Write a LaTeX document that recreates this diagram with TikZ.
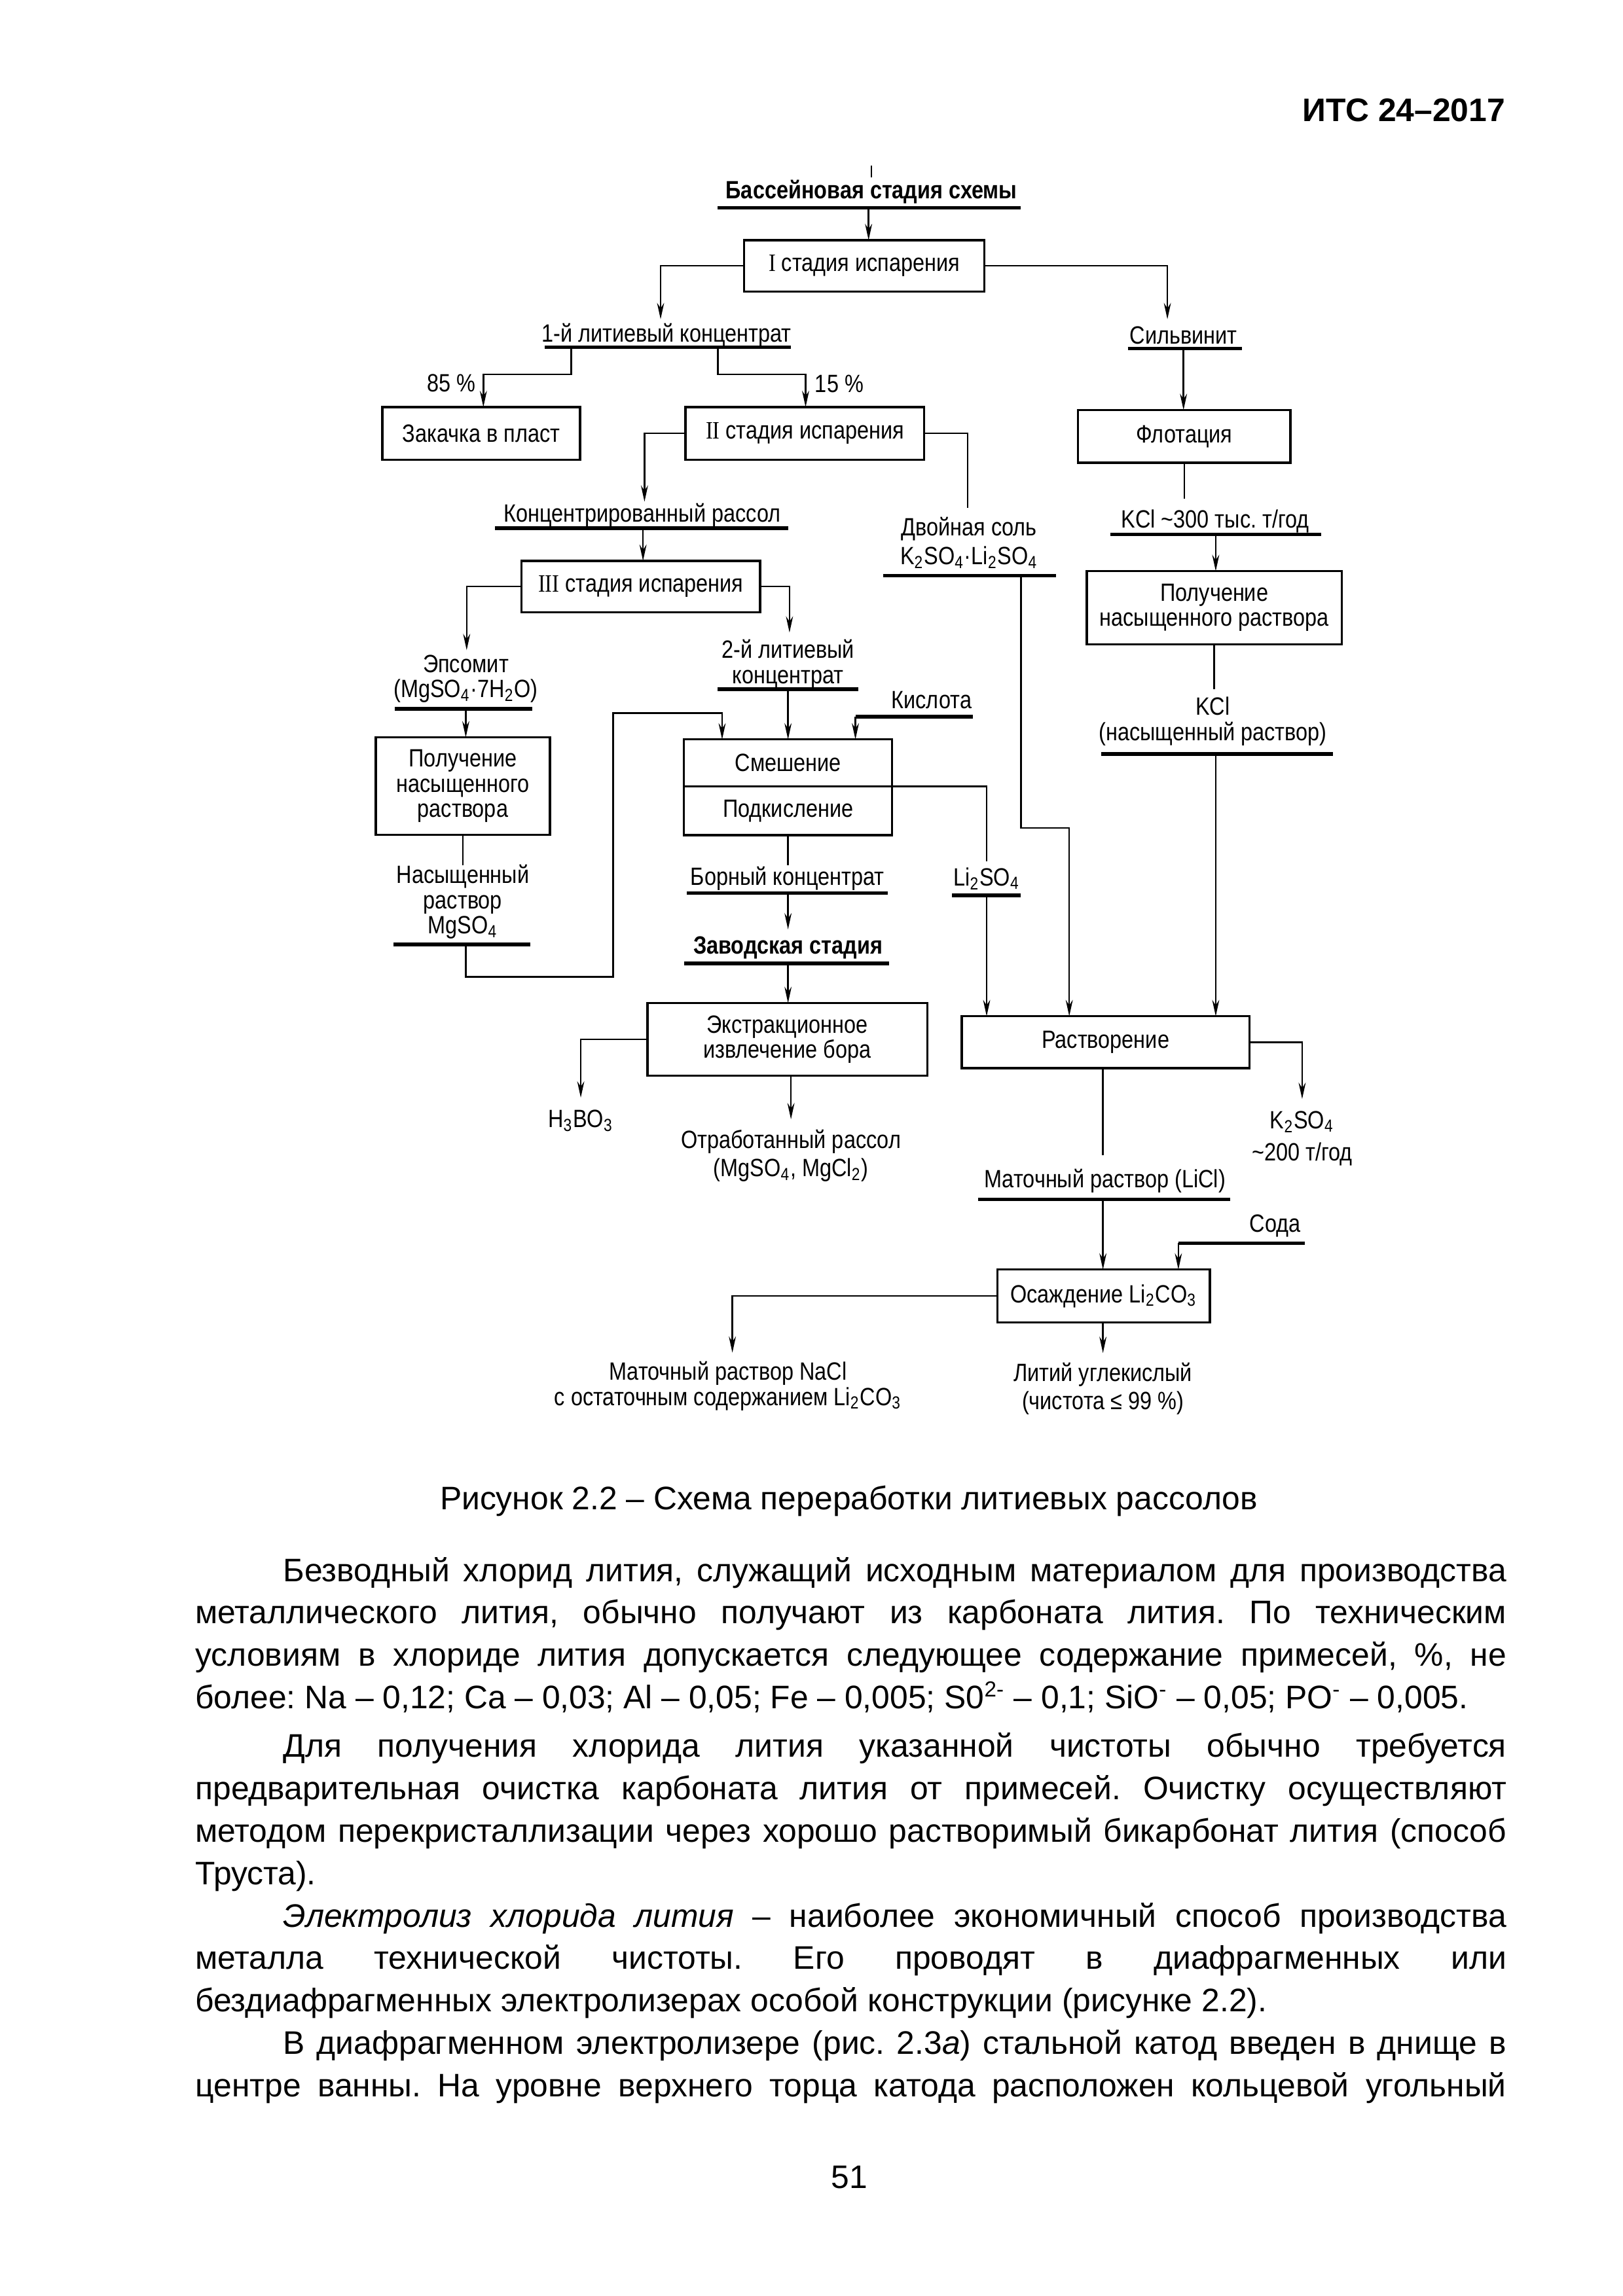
\documentclass[tikz,border=0pt]{standalone}
\usepackage{fontspec}
\setmainfont{Liberation Sans}
\newfontfamily\dfont[FakeStretch=0.85]{Liberation Sans}
\newfontfamily\rnum[FakeStretch=0.85]{Liberation Serif}
\usetikzlibrary{arrows.meta}
\frenchspacing
\newcommand\lsub[1]{\textsubscript{#1}}
\newcommand\lsup[1]{\textsuperscript{#1}}
\newcommand\bx[6]{\node[box, minimum width={(#3-#2)*0.018953cm}, minimum height={(#5-#4)*0.018953cm}] (#1) at ({(#2+#3)/2},{(#4+#5)/2}) {#6};}
\newcommand\jl[1]{\makebox[16.963cm][s]{#1}}
\newcommand\jf[1]{\makebox[15.826cm][s]{#1}}
\begin{document}
\begin{tikzpicture}[x=0.018953cm,y=-0.018953cm,
 dtext/.style={font=\dfont\fontsize{9.2}{9.3}\selectfont},
 box/.style={draw,line width=0.8pt,inner sep=0pt,outer sep=0pt,align=center,dtext},
 lbl/.style={inner sep=0pt,align=center,dtext},
 ttl/.style={inner sep=0pt,align=center,font=\dfont\bfseries\fontsize{9.2}{9.3}\selectfont},
 con/.style={line width=0.6pt},
 arr/.style={con,-{Stealth[length=6pt,width=2.6pt]}},
 ul/.style={line width=1.3pt},
 body/.style={inner sep=0pt,anchor=mid west,font=\fontsize{12}{15.6}\selectfont},
]
\fill[white] (0,0) rectangle (1108,1568);
\useasboundingbox (0,0) rectangle (1108,1568);

% header
\node[inner sep=0pt,anchor=mid east,font=\bfseries\fontsize{12}{14}\selectfont] (hdr) at (1028,78) {ИТС 24–2017};

% ---------- boxes ----------
\bx{b1}{508}{672}{164}{199}{{\rnum I} стадия испарения}
\bx{bZ}{261}{396}{278}{314}{Закачка в пласт}
\bx{b2}{468}{631}{278}{314}{{\rnum II} стадия испарения}
\bx{bF}{736}{881}{280}{316}{Флотация}
\bx{bP2}{742}{916}{390}{440}{Получение\\насыщенного раствора}
\bx{b3}{356}{519}{383}{418}{{\rnum III} стадия испарения}
\bx{bP1}{256.5}{375.5}{503.6}{570}{Получение\\насыщенного\\раствора}
\bx{bS}{467}{609}{505}{537}{Смешение}
\bx{bPk}{467}{609}{537}{570.4}{Подкисление}
\bx{bE}{442}{633}{685}{734.7}{Экстракционное\\извлечение бора}
\bx{bR}{656.6}{853}{694}{729.4}{Растворение}
\bx{bO}{681}{826}{867}{903}{Осаждение Li\lsub2CO\lsub3}

% ---------- labels ----------
\node[ttl] (t0) at (595,131) {Бассейновая стадия схемы};
\node[lbl] (conc1) at (455,229) {1-й литиевый концентрат};
\node[lbl] (silv) at (808,229) {Сильвинит};
\node[lbl] (p85) at (308,261.5) {85 \%};
\node[lbl] (p15) at (573,262) {15 \%};
\node[lbl] (crass) at (438.5,352) {Концентрированный рассол};
\node[lbl,font=\dfont\fontsize{9.2}{10.7}\selectfont] (dsalt) at (661.6,370.6) {Двойная соль\\K\lsub2SO\lsub4·Li\lsub2SO\lsub4};
\node[lbl] (kcl300) at (829.6,356) {KCl \textasciitilde300 тыс. т/год};
\node[lbl] (kclsat) at (828,492.7) {KCl\\(насыщенный раствор)};
\node[lbl] (epsom) at (318,463.5) {Эпсомит\\(MgSO\lsub4·7H\lsub2O)};
\node[lbl] (conc2) at (538,453.7) {2-й литиевый\\концентрат};
\node[lbl] (acid) at (636,478) {Кислота};
\node[lbl] (nasMg) at (316,616) {Насыщенный\\раствор\\MgSO\lsub4};
\node[lbl] (bor) at (537.5,600) {Борный концентрат};
\node[lbl] (li2so4) at (673.6,600) {Li\lsub2SO\lsub4};
\node[ttl] (zav) at (538,647) {Заводская стадия};
\node[lbl] (h3bo3) at (396.5,765.4) {H\lsub3BO\lsub3};
\node[lbl,font=\dfont\fontsize{9.2}{10.5}\selectfont] (otrab) at (540,789.25) {Отработанный рассол\\(MgSO\lsub4, MgCl\lsub2)};
\node[lbl,font=\dfont\fontsize{9.2}{11.9}\selectfont] (k2so4) at (889,777.5) {K\lsub2SO\lsub4\\\textasciitilde200 т/год};
\node[lbl] (matLi) at (754.4,806.4) {Маточный раствор (LiCl)};
\node[lbl] (soda) at (870.6,837) {Сода};
\node[lbl] (matNa) at (497,946.5) {Маточный раствор NaCl\\с остаточным содержанием Li\lsub2CO\lsub3};
\node[lbl,font=\dfont\fontsize{9.2}{10.4}\selectfont] (lic) at (753,948.3) {Литий углекислый\\(чистота ≤ 99 \%)};

% ---------- underlines ----------
\draw[ul] (490,142) -- (697,142);
\draw[ul] (372,237) -- (540,237);
\draw[ul] (770,238) -- (848,238);
\draw[ul] (338,360.7) -- (538,360.7);
\draw[ul] (603,393) -- (721,393);
\draw[ul] (758,365) -- (902,365);
\draw[ul] (752,515) -- (910,515);
\draw[ul] (269.5,484) -- (363.4,484);
\draw[ul] (490,470.6) -- (586,470.6);
\draw[ul] (584,489.5) -- (664,489.5);
\draw[ul] (268.7,645) -- (362,645);
\draw[ul] (469,610) -- (606,610);
\draw[ul] (650,611.5) -- (697,611.5);
\draw[ul] (467,658) -- (607,658);
\draw[ul] (667.6,819) -- (840,819);
\draw[ul] (804.5,849) -- (891,849);

% ---------- connectors ----------
\draw[con] (595,113) -- (595,121);
\draw[arr] (593,142) -- (593,164);
\draw[arr] (b1.west) -| (451,218);
\draw[arr] (b1.east) -| (797,218);
\draw[arr] (390,237) |- (330,255.6) -- (330,278);
\draw[arr] (490,237) |- (550,255.6) -- (550,278);
\draw[arr] (808,238) -- (808,280);
\draw[arr] (b2.west) -| (440,342.6);
\draw[con] (b2.east) -| (660.6,347);
\draw[arr] (439,360.7) -- (439,383);
\draw[con] (bF.south) -- (808.5,340.6);
\draw[arr] (830,365) -- (830,390);
\draw[con] (bP2.south) -- (829,470.8);
\draw[arr] (830,515) -- (830,694);
\draw[arr] (b3.west) -| (318.6,444);
\draw[arr] (318,484) -- (318,503.6);
\draw[arr] (b3.east) -| (539,432);
\draw[arr] (538,470.6) -- (538,505);
\draw[arr] (584,489.5) -- (584,505);
\draw[arr] (697,393) |- (730,565.4) -- (730,694);
\draw[con] (bP1.south) -- (316,591);
\draw[arr] (318,645) |- (418.5,667) -- (418.5,487) -- (493,487) -- (493,505);
\draw[con] (bS.south east) -- (673.6,537) -- (673.6,588);
\draw[arr] (673.6,611.5) -- (673.6,694);
\draw[con] (bPk.south) -- (538,591);
\draw[arr] (538,610) -- (538,634.7);
\draw[arr] (538,658) -- (538,685);
\draw[arr] (bE.west) -| (396.5,749.6);
\draw[arr] (540,734.7) -- (540,764.4);
\draw[arr] (bR.east) -| (889,750.5);
\draw[con] (753,729.4) -- (753,788.7);
\draw[arr] (753,819) -- (753,867);
\draw[arr] (804.5,849) -- (804.5,867);
\draw[arr] (bO.west) -| (500,923.8);
\draw[arr] (753,903) -- (753,924);

% ---------- caption and body ----------
\node[inner sep=0pt,font=\fontsize{12}{14}\selectfont] (cap) at (579.5,1025) {Рисунок 2.2 – Схема переработки литиевых рассолов};

\node[body] (l1) at (193,1075) {\jf{Безводный хлорид лития, служащий исходным материалом для производства}};
\node[body] (l2) at (133,1104) {\jl{металлического лития, обычно получают из карбоната лития. По техническим}};
\node[body] (l3) at (133,1133) {\jl{условиям в хлориде лития допускается следующее содержание примесей, \%, не}};
\node[body] (l4) at (133,1162) {более: Na – 0,12; Ca – 0,03; Al – 0,05; Fe – 0,005; S0\lsup{2-} – 0,1; SiO\lsup{-} – 0,05; PO\lsup{-} – 0,005.};

\node[body] (l5) at (193,1195) {\jf{Для получения хлорида лития указанной чистоты обычно требуется}};
\node[body] (l6) at (133,1224) {\jl{предварительная очистка карбоната лития от примесей. Очистку осуществляют}};
\node[body] (l7) at (133,1253) {\jl{методом перекристаллизации через хорошо растворимый бикарбонат лития (способ}};
\node[body] (l8) at (133,1282) {Труста).};

\node[body] (l9) at (193,1311) {\jf{\textit{Электролиз хлорида лития} – наиболее экономичный способ производства}};
\node[body] (l10) at (133,1340) {\jl{металла технической чистоты. Его проводят в диафрагменных или}};
\node[body] (l11) at (133,1369) {бездиафрагменных электролизерах особой конструкции (рисунке 2.2).};

\node[body] (l12) at (193,1398) {\jf{В диафрагменном электролизере (рис. 2.3\textit{а}) стальной катод введен в днище в}};
\node[body] (l13) at (133,1427) {\jl{центре ванны. На уровне верхнего торца катода расположен кольцевой угольный}};

\node[inner sep=0pt,font=\fontsize{12}{14}\selectfont] (pg) at (580,1487) {51};
\end{tikzpicture}
\end{document}
